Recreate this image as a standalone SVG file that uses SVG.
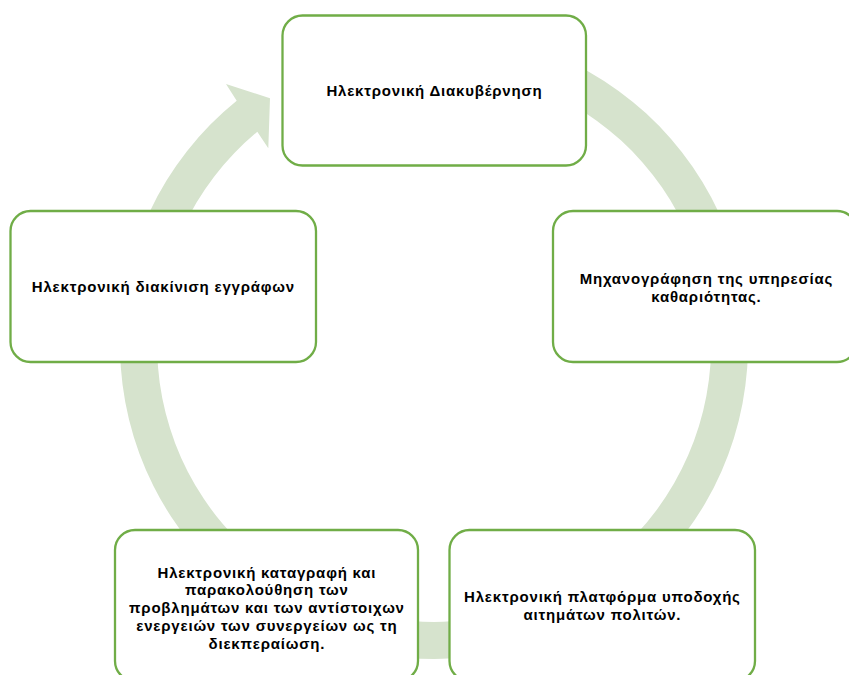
<svg xmlns="http://www.w3.org/2000/svg" width="849" height="675" viewBox="0 0 849 675">
<style>
.box{fill:#ffffff;stroke:#70ad47;stroke-width:2.3}
.t{font-family:"Liberation Sans","Arimo",sans-serif;font-weight:bold;font-size:15px;letter-spacing:0.8px;fill:#000000;text-anchor:middle}
.ring{fill:#d6e3cd;stroke:none}
</style>
<rect width="849" height="675" fill="#ffffff"/>
<g id="connectors">
<path class="ring" d="M 489,35.8 A 314 314 0 1 1 236.7,100.7 L 226,84 L 270,98.3 L 268.3,148.3 L 257.3,131.7 A 277 277 0 1 0 482.6,72.2 Z"/>
</g>
<g id="node-top">
<rect class="box" x="282.5" y="15.5" width="303.5" height="150" rx="20"/>
<text class="t" x="434.4" y="96">Ηλεκτρονική Διακυβέρνηση</text>
</g>
<g id="node-right">
<rect class="box" x="553" y="211" width="304" height="151" rx="20"/>
<text class="t" x="706.4" y="283.5">Μηχανογράφηση της υπηρεσίας</text>
<text class="t" x="706.4" y="301.5">καθαριότητας.</text>
</g>
<g id="node-bottom-right">
<rect class="box" x="449.5" y="530" width="305.5" height="151" rx="20"/>
<text class="t" x="602.4" y="601.5">Ηλεκτρονική πλατφόρμα υποδοχής</text>
<text class="t" x="602.4" y="619.5">αιτημάτων πολιτών.</text>
</g>
<g id="node-bottom-left">
<rect class="box" x="115" y="530" width="303" height="151" rx="20"/>
<text class="t" x="266.9" y="577.5">Ηλεκτρονική καταγραφή και</text>
<text class="t" x="266.9" y="595.3">παρακολούθηση των</text>
<text class="t" x="266.9" y="613">προβλημάτων και των αντίστοιχων</text>
<text class="t" x="266.9" y="630.8">ενεργειών των συνεργείων ως τη</text>
<text class="t" x="266.9" y="648.5">διεκπεραίωση.</text>
</g>
<g id="node-left">
<rect class="box" x="10.5" y="211" width="305.5" height="151" rx="20"/>
<text class="t" x="163.4" y="291.5">Ηλεκτρονική διακίνιση εγγράφων</text>
</g>
</svg>
